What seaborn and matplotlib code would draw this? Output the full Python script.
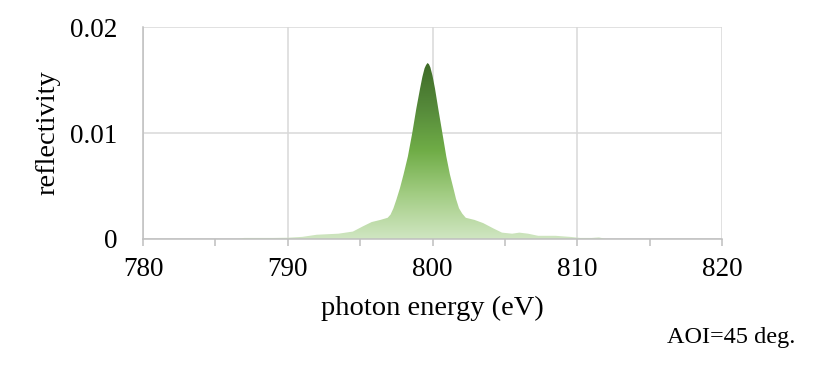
import matplotlib
matplotlib.use("Agg")
import matplotlib.pyplot as plt
import seaborn as sns
import numpy as np
import pandas as pd
from matplotlib.colors import LinearSegmentedColormap
from matplotlib.ticker import MultipleLocator

# photon energy (eV) and reflectivity
energy = [786.5, 787.0, 789.0, 790.0, 791.0, 792.0, 793.5, 794.5, 795.2, 795.8,
          796.4, 796.9, 797.1, 797.3, 797.5, 797.75, 798.0, 798.3, 798.6, 798.88,
          799.14, 799.3, 799.45, 799.55, 799.65, 799.75, 799.85, 800.0, 800.17, 800.42,
          800.68, 800.95, 801.2, 801.44, 801.62, 801.83, 802.05, 802.3, 802.9, 803.5,
          804.2, 804.8, 805.5, 806.0, 806.6, 807.3, 808.5, 809.5, 810.2, 811.0,
          811.5, 812.0]
reflectivity = [0.0, 0.0001, 0.0001, 0.00012, 0.0002, 0.0004, 0.0005, 0.0007, 0.0012, 0.0016,
                0.0018, 0.0020, 0.0023, 0.0029, 0.0037, 0.0048, 0.0061, 0.0078, 0.0100, 0.0123,
                0.0142, 0.0153, 0.0161, 0.0164, 0.0166, 0.0165, 0.0162, 0.0154, 0.0142, 0.0121,
                0.0100, 0.0078, 0.0061, 0.0048, 0.0038, 0.0029, 0.0024, 0.0020, 0.0018, 0.0015,
                0.0010, 0.0006, 0.0005, 0.0006, 0.0005, 0.0003, 0.0003, 0.0002, 0.0001, 0.0001,
                0.00015, 0.0]

df = pd.DataFrame({"energy": energy, "reflectivity": reflectivity})

sns.set_theme(style="white")
plt.rcParams["font.family"] = ["Liberation Serif", "DejaVu Serif"]

fig = plt.figure(figsize=(8.14, 3.67), dpi=100)
ax = fig.add_axes([0.1757, 0.3488, 0.7113, 0.5776])

sns.lineplot(data=df, x="energy", y="reflectivity", ax=ax, linewidth=0, color="#70ad47")

# gradient area fill, clipped to the curve
cmap = LinearSegmentedColormap.from_list(
    "grn", ["#d0e6c2", "#a3cd84", "#70ad47", "#55893a", "#3e6b27"])
poly = ax.fill_between(df["energy"], df["reflectivity"], 0, color="none", lw=0)
top = max(reflectivity)
grad = np.linspace(0, 1, 256).reshape(-1, 1)
img = ax.imshow(grad, cmap=cmap, origin="lower", aspect="auto",
                extent=[780, 820, 0, top], zorder=2)
path = poly.get_paths()[0]
img.set_clip_path(path, ax.transData)

ax.set_xlim(780, 820)
ax.set_ylim(0, 0.02)
ax.xaxis.set_major_locator(MultipleLocator(10))
ax.xaxis.set_minor_locator(MultipleLocator(5))
ax.set_yticks([0, 0.01, 0.02])
ax.set_yticklabels(["0", "0.01", "0.02"])

ax.grid(True, which="major", color="#d9d9d9", linewidth=1.1)
ax.set_axisbelow(True)
for s in ["top", "right"]:
    ax.spines[s].set_visible(False)
for s in ["left", "bottom"]:
    ax.spines[s].set_color("#bfbfbf")
    ax.spines[s].set_linewidth(1.1)
    ax.spines[s].set_zorder(3)

ax.tick_params(axis="x", which="both", direction="out", length=5, width=1.1,
               color="#bfbfbf", bottom=True, labelsize=19.5, pad=8, labelcolor="black")
ax.tick_params(axis="x", which="minor", labelbottom=False)
ax.tick_params(axis="y", length=0, pad=18.5, labelsize=19.5, labelcolor="black")

ax.set_xlabel("photon energy (eV)", fontsize=20.5, labelpad=10, color="black")
ax.set_ylabel("reflectivity", fontsize=20.5, labelpad=7, color="black")

fig.text(795 / 814, 1 - 343 / 367, "AOI=45 deg.", ha="right", va="baseline",
         fontsize=17.5, color="black")

fig.savefig("out.png", dpi=100)
